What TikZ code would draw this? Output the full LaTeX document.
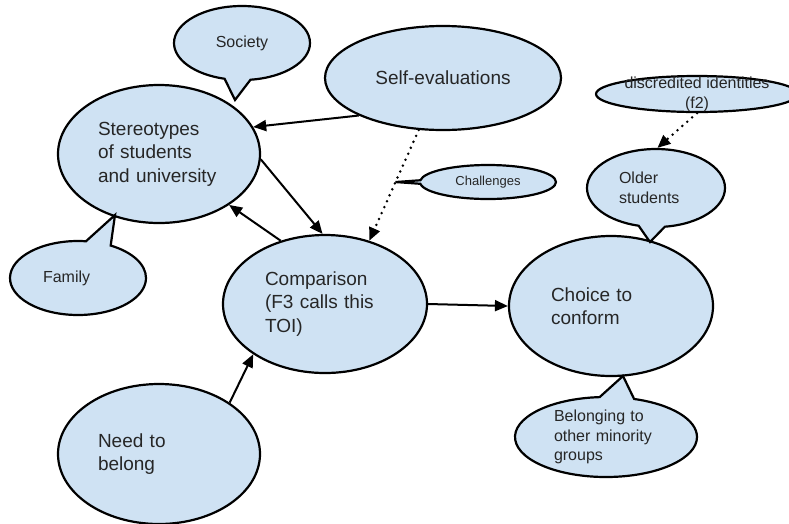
\documentclass[tikz,border=0pt]{standalone}
\usepackage{fontspec}
\setmainfont{Liberation Sans}
\usetikzlibrary{shapes.geometric,shapes.callouts,arrows.meta}
\definecolor{bubble}{HTML}{CFE2F3}
\definecolor{ink}{HTML}{262626}
\tikzset{idea/.style={ellipse, draw, line width=2.2pt, fill=bubble, inner sep=0pt, text=ink, align=left, font=\fontsize{19}{23.5}\selectfont},
 note/.style={ellipse callout, draw, line width=2.2pt, fill=bubble, inner sep=0pt, callout pointer arc=22, text=ink, align=left, font=\fontsize{16}{19.5}\selectfont},
 link/.style={line width=2pt, -{Triangle[length=13pt,width=11pt]}},
 hint/.style={link, dash pattern=on 0pt off 6.5pt, line cap=round, line width=2.8pt}}

\begin{document}
\begin{tikzpicture}[x=1pt,y=-1pt]
  \useasboundingbox (0,0) rectangle (789,523);
  % main ideas
  \node[idea, minimum width=202pt, minimum height=138pt, text width=122pt] (stereo) at (159,154) {Stereotypes\\of students\\and university};
  \node[idea, minimum width=236pt, minimum height=104pt, align=center] (self) at (443,78) {Self-evaluations};
  \node[idea, minimum width=204pt, minimum height=138pt, text width=120pt] (comp) at (325,304) {Comparison\\(F3 calls this\\TOI)};
  \node[idea, minimum width=202pt, minimum height=140pt, text width=122pt] (need) at (159,454) {Need to\\belong};
  \node[idea, minimum width=204pt, minimum height=140pt, text width=120pt] (choice) at (611,306) {Choice to\\conform};
  \node[idea, minimum width=202pt, minimum height=36pt] (disc) at (697,94) {};
  \node[text=ink, align=center, font=\fontsize{16}{20}\selectfont] (disctext) at (disc.center) {discredited identities\\(f2)};
  % links
  \draw[link] (self.204) -- (stereo.16);
  \draw[link] (stereo.-3) -- (comp.92);
  \draw[link] (comp.125) -- (stereo.-36);
  \draw[link] (need.36) -- (comp.215);
  \draw[link] (comp.east) -- (choice.west);
  \draw[hint] (self.245) -- coordinate[pos=0.47] (chtip) (comp.55);
  % side notes
  \coordinate (soctip) at (235,100);
  \coordinate (famtip) at (115,215);
  \coordinate (oldtip) at (650,242);
  \coordinate (beltip) at (623,376);
  \node[note, minimum width=136pt, minimum height=74pt, callout absolute pointer=(soctip)] (society) at (242,43) {Society};
  \node[note, minimum width=136pt, minimum height=74pt, text width=70pt, callout absolute pointer=(famtip)] (family) at (78,278) {Family};
  \node[note, minimum width=136pt, minimum height=34pt, callout pointer arc=12, font=\fontsize{13}{15}\selectfont, callout absolute pointer=(chtip)] (chall) at (488,182) {Challenges};
  \node[note, minimum width=138pt, minimum height=78pt, text width=74pt, callout absolute pointer=(oldtip)] (older) at (656,188) {Older\\students};
  \node[note, minimum width=182pt, minimum height=80pt, text width=104pt, callout absolute pointer=(beltip)] (belong) at (606,437) {Belonging to\\other minority\\groups};
  \draw[hint] (disc.south) -- (older.88);
\end{tikzpicture}
\end{document}
